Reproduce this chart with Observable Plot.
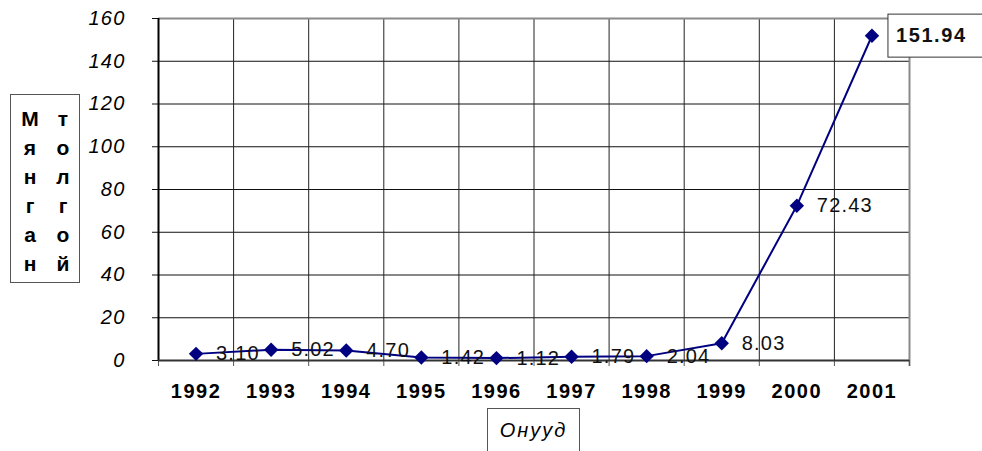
<!DOCTYPE html>
<html>
<head>
<meta charset="utf-8">
<script src="https://cdn.jsdelivr.net/npm/d3@7"></script>
<script src="https://cdn.jsdelivr.net/npm/@observablehq/plot@0.6"></script>
<style>
  html, body { margin: 0; padding: 0; background: #fff; }
  #wrap { position: relative; width: 982px; height: 451px; overflow: hidden; font-family: "Liberation Sans", Arial, sans-serif; }
  #ytitle { position: absolute; left: 10px; top: 94px; width: 70px; height: 189px; border: 1px solid #555; box-sizing: border-box; display: flex; padding-left: 5px; padding-top: 9px; gap: 5px; }
  #ytitle .col { width: 28px; display: flex; flex-direction: column; align-items: center; }
  #ytitle .col span { height: 29px; line-height: 29px; font-size: 21px; font-weight: bold; }
  #xtitle { position: absolute; left: 487px; top: 408px; width: 93px; height: 60px; border: 1px solid #555; box-sizing: border-box; text-align: center; line-height: 42px; font-size: 20px; font-style: italic; letter-spacing: 2px; }
  g[aria-label="x-axis tick label"] text { letter-spacing: 1.5px; }
  g[aria-label="y-axis tick label"] text { letter-spacing: 1.2px; }
  g.value-labels text { letter-spacing: 1.2px; }
  g.peak-label text { letter-spacing: 1.6px; }
</style>
</head>
<body>
<div id="wrap"></div>
<script>
const years = [1992, 1993, 1994, 1995, 1996, 1997, 1998, 1999, 2000, 2001];
const values = [3.10, 5.02, 4.70, 1.42, 1.12, 1.79, 2.04, 8.03, 72.43, 151.94];
const yTicks = [0, 20, 40, 60, 80, 100, 120, 140, 160];
const yTitleCol1 = "Мянган";
const yTitleCol2 = "толгой";
const xTitle = "Онууд";

const data = years.map((year, i) => ({year, value: values[i]}));
const boundaries = years.concat([years[years.length - 1] + 1]).map(y => y - 0.5);
const inner = boundaries.slice(1, -1);
const last = data.slice(-1);
const rest = data.slice(0, -1);

const chart = Plot.plot({
  width: 982,
  height: 451,
  marginLeft: 158,
  marginRight: 73,
  marginTop: 18,
  marginBottom: 91,
  style: {fontFamily: '"Liberation Sans", Arial, sans-serif', background: "white", overflow: "visible"},
  x: {type: "linear", domain: [boundaries[0], boundaries[boundaries.length - 1]], axis: null},
  y: {domain: [0, 160], axis: null},
  marks: [
    Plot.ruleY(yTicks.slice(1, -1), {stroke: "#111", strokeWidth: 1}),
    Plot.ruleX(inner, {stroke: "#222", strokeWidth: 1}),
    Plot.ruleY([yTicks[yTicks.length - 1]], {stroke: "#8a8a8a", strokeWidth: 2}),
    Plot.ruleX([boundaries[boundaries.length - 1]], {stroke: "#8a8a8a", strokeWidth: 2, insetBottom: -6}),
    Plot.axisX(boundaries, {tickSize: 6, tickFormat: () => "", stroke: "#555", strokeWidth: 1, label: null}),
    Plot.axisX(years, {tickSize: 0, tickPadding: 23, tickFormat: d => String(d), fontSize: 20, fontWeight: "bold", label: null}),
    Plot.axisY(yTicks, {tickSize: 6, tickPadding: 27, fontSize: 20, fontStyle: "italic", stroke: "#111", label: null}),
    Plot.ruleX([boundaries[0]], {stroke: "#000", strokeWidth: 2}),
    Plot.ruleY([0], {stroke: "#333", strokeWidth: 2}),
    Plot.line(data, {x: "year", y: "value", stroke: "#000080", strokeWidth: 2}),
    Plot.dot(data, {x: "year", y: "value", symbol: "diamond2", fill: "#000080", stroke: "none", r: 6.5}),
    Plot.text(rest, {x: "year", y: "value", text: d => d.value.toFixed(2), textAnchor: "start", dx: 20, fontSize: 20, fill: "#111"}),
    Plot.text(last, {x: "year", y: "value", text: d => d.value.toFixed(2), textAnchor: "start", dx: 24, fontSize: 20, fontWeight: "bold", fill: "#111"})
  ]
});

const wrap = document.getElementById("wrap");
wrap.appendChild(chart);

// tag the two label groups (in mark order) and box the peak label
const textGroups = d3.select(chart).selectAll('g[aria-label="text"]').nodes();
if (textGroups.length >= 2) {
  d3.select(textGroups[0]).classed("value-labels", true);
  d3.select(textGroups[1]).classed("peak-label", true);
  const peakText = d3.select(textGroups[1]).select("text");
  const node = peakText.node();
  const bb = node.getBBox();
  const tr = peakText.attr("transform");
  const rect = d3.select(textGroups[1]).insert("rect", "text")
    .attr("x", bb.x - 8)
    .attr("y", bb.y - 10)
    .attr("width", bb.width + 30)
    .attr("height", bb.height + 21)
    .attr("fill", "white")
    .attr("stroke", "#333")
    .attr("stroke-width", 1);
  if (tr) rect.attr("transform", tr);
}

const yt = document.createElement("div");
yt.id = "ytitle";
[yTitleCol1, yTitleCol2].forEach(word => {
  const col = document.createElement("div");
  col.className = "col";
  for (const ch of word) {
    const s = document.createElement("span");
    s.textContent = ch;
    col.appendChild(s);
  }
  yt.appendChild(col);
});
wrap.appendChild(yt);

const xt = document.createElement("div");
xt.id = "xtitle";
xt.textContent = xTitle;
wrap.appendChild(xt);
</script>
</body>
</html>
